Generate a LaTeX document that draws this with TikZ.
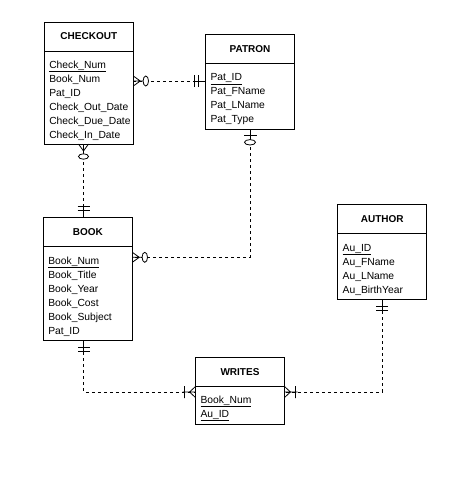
\documentclass[tikz,border=0pt]{standalone}
\usepackage{fontspec}
\setmainfont{Liberation Sans}
\usetikzlibrary{calc, positioning}
\tikzset{
	entity/.style={draw, minimum width=89pt, inner sep=0pt, outer sep=0pt},
	entity head/.style={entity, minimum height=29pt, font=\bfseries\fontsize{10}{12}\selectfont},
	entity body/.style={entity, text width=79pt, inner xsep=5pt, align=left, font=\fontsize{10.3}{14}\selectfont, execute at begin node={\rule{0pt}{13.5pt}}},
	rel/.style={dash pattern=on 3pt off 3pt},
	many zero/.pic={
		\draw (0,-5) -- (7,0) -- (0,5) (0,0) -- (9.8,0);
		\draw[fill=white] (12.5,0) ellipse (2.7 and 5);
	},
	zero one/.pic={
		\draw (0,0) -- (10.3,0) (6,-6.5) -- (6,6.5);
		\draw[fill=white] (13,0) ellipse (2.7 and 5.5);
	},
	mand one/.pic={
		\draw (0,0) -- (13,0) (7,-6) -- (7,6) (11,-6) -- (11,6);
	},
	one many/.pic={
		\draw (0,-5.5) -- (6,0) -- (0,5.5) (0,0) -- (13,0) (11,-6) -- (11,6);
	}
}

\begin{document}
\begin{tikzpicture}[x=1pt, y=-1pt, line width=0.8pt]
	\useasboundingbox (0,0) rectangle (466,480);
	
	\node[entity head] (checkout) at (88.8,36.5) {CHECKOUT};
	\node[entity body, minimum height=93pt, below=0pt of checkout] (checkoutA) {\underline{Check\_Num}\\Book\_Num\\Pat\_ID\\Check\_Out\_Date\\Check\_Due\_Date\\Check\_In\_Date};
	
	\node[entity head, minimum height=28.6pt] (patron) at (250,49) {PATRON};
	\node[entity body, minimum height=66pt, below=0pt of patron] (patronA) {\underline{Pat\_ID}\\Pat\_FName\\Pat\_LName\\Pat\_Type};
	
	\node[entity head] (book) at (87.8,231.8) {BOOK};
	\node[entity body, minimum height=94pt, below=0pt of book] (bookA) {\underline{Book\_Num}\\Book\_Title\\Book\_Year\\Book\_Cost\\Book\_Subject\\Pat\_ID};
	
	\node[entity head, minimum height=28.6pt] (author) at (382.2,219) {AUTHOR};
	\node[entity body, minimum height=66pt, below=0pt of author] (authorA) {\underline{Au\_ID}\\Au\_FName\\Au\_LName\\Au\_BirthYear};
	
	\node[entity head, minimum height=28.6pt] (writes) at (240,372) {WRITES};
	\node[entity body, minimum height=38pt, below=0pt of writes] (writesA) {\underline{Book\_Num}\\\underline{Au\_ID}};
	
	\coordinate (colL) at (83.5,0);
	
	% CHECKOUT - PATRON
	\coordinate (cpC) at ($(checkoutA.north east)+(0,30)$);
	\coordinate (cpP) at (cpC -| patronA.west);
	\draw[rel] (cpC) -- (cpP);
	\pic at (cpC) {many zero};
	\pic[rotate=180] at (cpP) {mand one};
	
	% CHECKOUT - BOOK
	\coordinate (cbC) at (checkoutA.south -| colL);
	\coordinate (cbB) at (book.north -| colL);
	\draw[rel] (cbC) -- (cbB);
	\pic[rotate=-90] at (cbC) {many zero};
	\pic[rotate=90] at (cbB) {mand one};
	
	% PATRON - BOOK
	\coordinate (pbB) at ($(bookA.north east)+(0,11)$);
	\draw[rel] (patronA.south) |- (pbB);
	\pic[rotate=-90] at (patronA.south) {zero one};
	\pic at (pbB) {many zero};
	
	% BOOK - WRITES
	\coordinate (bwB) at (bookA.south -| colL);
	\coordinate (bwW) at ($(writesA.north west)+(0,5.7)$);
	\draw[rel] (bwB) |- (bwW);
	\pic[rotate=-90] at (bwB) {mand one};
	\pic[rotate=180] at (bwW) {one many};
	
	% AUTHOR - WRITES
	\coordinate (awW) at ($(writesA.north east)+(0,5.7)$);
	\draw[rel] (authorA.south) |- (awW);
	\pic[rotate=-90] at (authorA.south) {mand one};
	\pic at (awW) {one many};
\end{tikzpicture}
\end{document}
